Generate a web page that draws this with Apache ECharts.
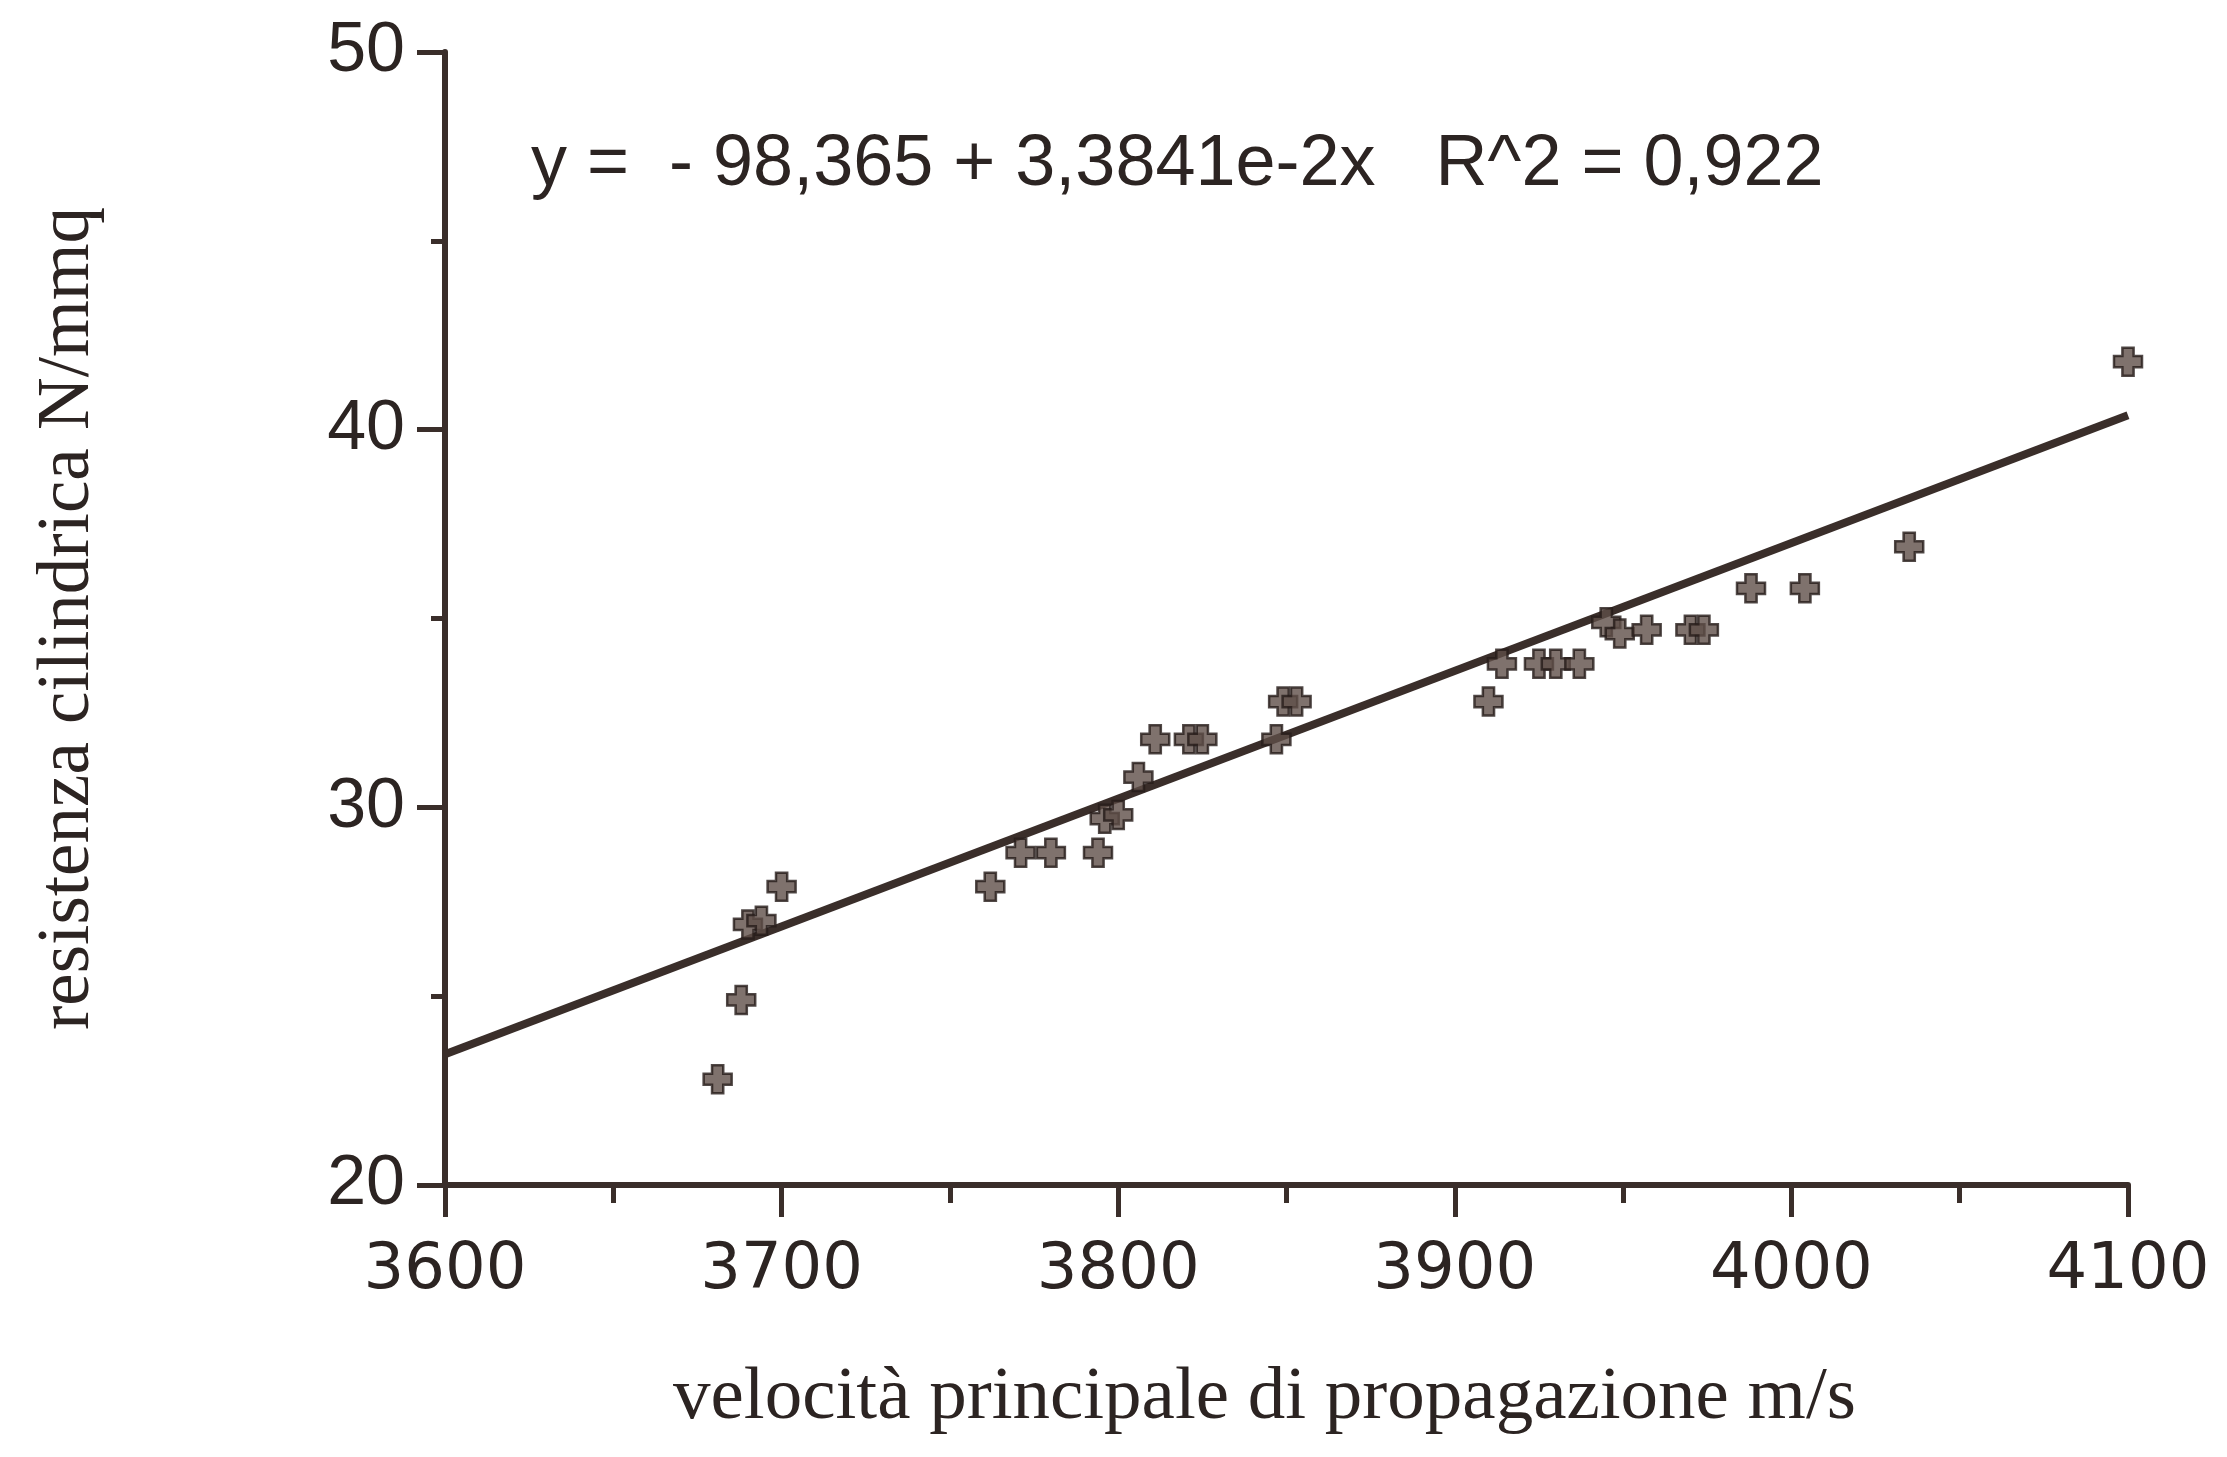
<!DOCTYPE html>
<html>
<head>
<meta charset="utf-8">
<script src="https://cdn.jsdelivr.net/npm/echarts@6/dist/echarts.min.js"></script>
<style>html,body{margin:0;padding:0;background:#ffffff}#c{width:2227px;height:1457px}</style>
</head>
<body>
<div id="c"></div>
<script>
// ---- data ----
const velocity = [3681, 3688, 3690, 3694, 3700, 3762, 3771, 3780, 3794, 3796, 3800, 3806, 3811, 3821, 3825, 3847, 3849, 3853, 3910, 3914, 3925, 3930, 3937, 3945, 3949, 3957, 3970, 3974, 3988, 4004, 4035, 4100];
const resistance = [22.8, 24.9, 26.9, 27.0, 27.9, 27.9, 28.8, 28.8, 28.8, 29.7, 29.8, 30.8, 31.8, 31.8, 31.8, 31.8, 32.8, 32.8, 32.8, 33.8, 33.8, 33.8, 33.8, 34.9, 34.6, 34.7, 34.7, 34.7, 35.8, 35.8, 36.9, 41.8];
const xRange = [3600, 4100];
const yRange = [20, 50];
const fitIntercept = -98.365;
const fitSlope = 0.033841;
const equationLabel = 'y =  - 98,365 + 3,3841e-2x   R^2 = 0,922';
const xName = 'velocità principale di propagazione m/s';
const yName = 'resistenza cilindrica N/mmq';

const ink = '#3a2e2a';
const points = velocity.map((v, i) => [v, resistance[i]]);
const fitLine = xRange.map(x => [x, fitIntercept + fitSlope * x]);

const chart = echarts.init(document.getElementById('c'), null, {renderer: 'canvas'});
chart.setOption({
  backgroundColor: '#ffffff',
  animation: false,
  title: {
    text: equationLabel,
    left: 526,
    top: 124,
    textStyle: {fontFamily: 'Liberation Sans', fontSize: 72, fontWeight: 'normal', color: '#2c2422'}
  },
  grid: {left: 445, right: 99, top: 52, bottom: 272},
  xAxis: {
    type: 'value',
    min: xRange[0], max: xRange[1], interval: 100,
    name: xName,
    nameLocation: 'middle',
    nameGap: 176,
    nameTextStyle: {fontFamily: 'Liberation Serif', fontSize: 75, color: '#2c2422', padding: [0, 44, 0, 0]},
    axisLine: {show: true, lineStyle: {color: ink, width: 6}},
    axisTick: {show: true, inside: false, length: 32, lineStyle: {color: ink, width: 5}},
    minorTick: {show: true, splitNumber: 2, length: 18, lineStyle: {color: ink, width: 5}},
    splitLine: {show: false},
    axisLabel: {margin: 54, fontFamily: 'DejaVu Sans', fontSize: 64, color: '#2c2422', formatter: v => String(v)}
  },
  yAxis: {
    type: 'value',
    min: yRange[0], max: yRange[1], interval: 10,
    name: yName,
    nameLocation: 'middle',
    nameRotate: 90,
    nameGap: 340,
    nameTextStyle: {fontFamily: 'Liberation Serif', fontSize: 73, color: '#2c2422'},
    axisLine: {show: true, lineStyle: {color: ink, width: 6}},
    axisTick: {show: true, inside: false, length: 28, lineStyle: {color: ink, width: 5}},
    minorTick: {show: true, splitNumber: 2, length: 14, lineStyle: {color: ink, width: 5}},
    splitLine: {show: false},
    axisLabel: {margin: 40, fontFamily: 'Liberation Sans', fontSize: 70, color: '#2c2422', formatter: v => String(v)}
  },
  series: [
    {
      type: 'line',
      data: fitLine,
      showSymbol: false,
      symbol: 'none',
      lineStyle: {color: ink, width: 8},
      z: 2
    },
    {
      type: 'scatter',
      data: points,
      symbol: 'path://M6,0H14V6H20V14H14V20H6V14H0V6H6Z',
      symbolSize: 28,
      itemStyle: {color: '#5f4f48', borderColor: '#261c19', borderWidth: 2.5},
      z: 3
    }
  ]
});
</script>
</body>
</html>
